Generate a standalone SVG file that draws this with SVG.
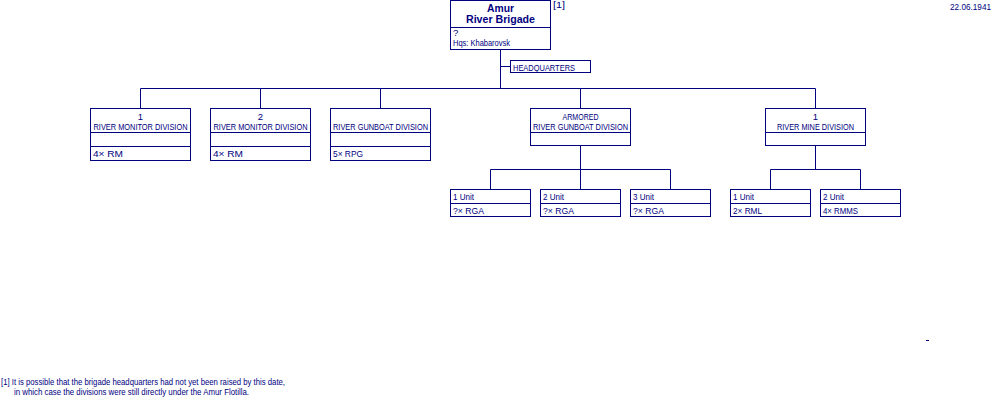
<svg xmlns="http://www.w3.org/2000/svg" width="1000" height="400" viewBox="0 0 1000 400">
<style>
rect{fill:#fff;stroke:#000080;stroke-width:1}
line,.c{stroke:#000080;stroke-width:1;fill:none}
text{font-family:"Liberation Sans",Arial,sans-serif;font-size:9.5px;fill:#000080}
.b{font-weight:bold;font-size:11px}
.m{text-anchor:middle}
</style>
<rect x="0" y="0" width="1000" height="400" style="fill:#fff;stroke:none"/>
<g id="connectors">
<path class="c" d="M500.5 50V88.5M500.5 66.5H510.5M140.5 88.5H815.5M140.5 88.5V108.5M260.5 88.5V108.5M380.5 88.5V108.5M580.5 88.5V108.5M815.5 88.5V108.5M580.5 146V169.5M490.5 169.5H670.5M490.5 169.5V189.5M580.5 169.5V189.5M670.5 169.5V189.5M815.5 146V169.5M770.5 169.5H860.5M770.5 169.5V189.5M860.5 169.5V189.5"/>
</g>
<g id="brigade">
<rect x="450.5" y="0.5" width="100" height="49"/>
<line x1="450.5" y1="27.5" x2="550.5" y2="27.5"/>
<text class="b m" x="500.5" y="12" textLength="27" lengthAdjust="spacingAndGlyphs">Amur</text>
<text class="b m" x="500.5" y="23" textLength="69" lengthAdjust="spacingAndGlyphs">River Brigade</text>
<text x="453" y="36">?</text>
<text x="453" y="46" textLength="57" lengthAdjust="spacingAndGlyphs">Hqs: Khabarovsk</text>
<text x="553" y="8" textLength="12" lengthAdjust="spacingAndGlyphs">[1]</text>
</g>
<g id="hq">
<rect x="510.5" y="60.5" width="80" height="12"/>
<text x="513" y="70.5" textLength="62" lengthAdjust="spacingAndGlyphs">HEADQUARTERS</text>
</g>
<g id="div1">
<rect x="90.5" y="108.5" width="100" height="52"/>
<line x1="90.5" y1="132.5" x2="190.5" y2="132.5"/><line x1="90.5" y1="146.5" x2="190.5" y2="146.5"/>
<text class="m" x="140.5" y="119.5">1</text>
<text class="m" x="140.5" y="129.5" textLength="94" lengthAdjust="spacingAndGlyphs">RIVER MONITOR DIVISION</text>
<text x="93" y="157" textLength="30" lengthAdjust="spacingAndGlyphs">4× RM</text>
</g>
<g id="div2">
<rect x="210.5" y="108.5" width="100" height="52"/>
<line x1="210.5" y1="132.5" x2="310.5" y2="132.5"/><line x1="210.5" y1="146.5" x2="310.5" y2="146.5"/>
<text class="m" x="260.5" y="119.5">2</text>
<text class="m" x="260.5" y="129.5" textLength="94" lengthAdjust="spacingAndGlyphs">RIVER MONITOR DIVISION</text>
<text x="213" y="157" textLength="30" lengthAdjust="spacingAndGlyphs">4× RM</text>
</g>
<g id="div3">
<rect x="330.5" y="108.5" width="100" height="52"/>
<line x1="330.5" y1="132.5" x2="430.5" y2="132.5"/><line x1="330.5" y1="146.5" x2="430.5" y2="146.5"/>
<text class="m" x="380.5" y="129.5" textLength="95" lengthAdjust="spacingAndGlyphs">RIVER GUNBOAT DIVISION</text>
<text x="333" y="157" textLength="30" lengthAdjust="spacingAndGlyphs">5× RPG</text>
</g>
<g id="armored">
<rect x="530.5" y="108.5" width="100" height="37"/>
<line x1="530.5" y1="132.5" x2="630.5" y2="132.5"/>
<text class="m" x="580.5" y="119.5" textLength="36" lengthAdjust="spacingAndGlyphs">ARMORED</text>
<text class="m" x="580.5" y="129.5" textLength="95" lengthAdjust="spacingAndGlyphs">RIVER GUNBOAT DIVISION</text>
</g>
<g id="mine">
<rect x="765.5" y="108.5" width="100" height="37"/>
<line x1="765.5" y1="132.5" x2="865.5" y2="132.5"/>
<text class="m" x="815.5" y="119.5">1</text>
<text class="m" x="815.5" y="129.5" textLength="77" lengthAdjust="spacingAndGlyphs">RIVER MINE DIVISION</text>
</g>
<g id="a1">
<rect x="450.5" y="189.5" width="80" height="27"/>
<line x1="450.5" y1="203.5" x2="530.5" y2="203.5"/>
<text x="453" y="200" textLength="21" lengthAdjust="spacingAndGlyphs">1 Unit</text>
<text x="453" y="214" textLength="31" lengthAdjust="spacingAndGlyphs">?× RGA</text>
</g>
<g id="a2">
<rect x="540.5" y="189.5" width="80" height="27"/>
<line x1="540.5" y1="203.5" x2="620.5" y2="203.5"/>
<text x="543" y="200" textLength="21" lengthAdjust="spacingAndGlyphs">2 Unit</text>
<text x="543" y="214" textLength="31" lengthAdjust="spacingAndGlyphs">?× RGA</text>
</g>
<g id="a3">
<rect x="630.5" y="189.5" width="80" height="27"/>
<line x1="630.5" y1="203.5" x2="710.5" y2="203.5"/>
<text x="633" y="200" textLength="21" lengthAdjust="spacingAndGlyphs">3 Unit</text>
<text x="633" y="214" textLength="31" lengthAdjust="spacingAndGlyphs">?× RGA</text>
</g>
<g id="m1">
<rect x="730.5" y="189.5" width="80" height="27"/>
<line x1="730.5" y1="203.5" x2="810.5" y2="203.5"/>
<text x="733" y="200" textLength="21" lengthAdjust="spacingAndGlyphs">1 Unit</text>
<text x="733" y="214" textLength="29" lengthAdjust="spacingAndGlyphs">2× RML</text>
</g>
<g id="m2">
<rect x="820.5" y="189.5" width="80" height="27"/>
<line x1="820.5" y1="203.5" x2="900.5" y2="203.5"/>
<text x="823" y="200" textLength="21" lengthAdjust="spacingAndGlyphs">2 Unit</text>
<text x="823" y="214" textLength="35" lengthAdjust="spacingAndGlyphs">4× RMMS</text>
</g>
<text x="950" y="10" textLength="41" lengthAdjust="spacingAndGlyphs">22.06.1941</text>
<line x1="926" y1="340.5" x2="929" y2="340.5"/>
<text x="1" y="385" textLength="284" lengthAdjust="spacingAndGlyphs">[1] It is possible that the brigade headquarters had not yet been raised by this date,</text>
<text x="14" y="395" textLength="235" lengthAdjust="spacingAndGlyphs">in which case the divisions were still directly under the Amur Flotilla.</text>
</svg>
